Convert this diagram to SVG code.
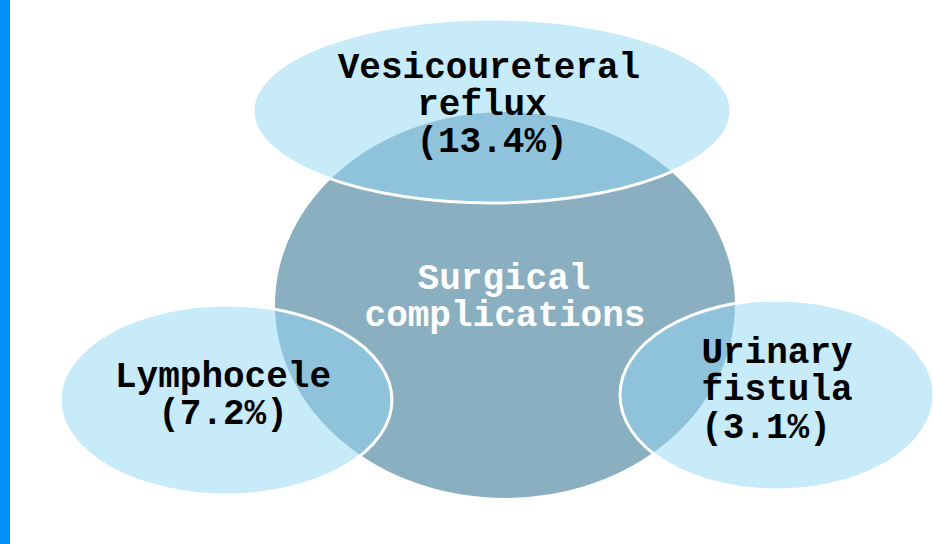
<svg xmlns="http://www.w3.org/2000/svg" width="933" height="544" viewBox="0 0 933 544">
<style>
.sat{fill:#91d7f5;fill-opacity:0.5;stroke:#ffffff;stroke-width:3}
.t{font-family:"Liberation Mono","Courier New",monospace;font-weight:bold;font-size:36px;text-anchor:middle;fill:#000000}
.w{fill:#ffffff}
</style>
<rect x="0" y="0" width="10" height="544" fill="#0090f8"/>
<g id="center">
<ellipse cx="505" cy="305" rx="230" ry="193" fill="#8aafc0"/>
<text class="t w" x="504" y="289">Surgical</text>
<text class="t w" x="505" y="326">complications</text>
</g>
<g id="vur">
<ellipse class="sat" cx="492" cy="111" rx="239" ry="92"/>
<text class="t" x="489" y="78">Vesicoureteral</text>
<text class="t" x="482" y="115">reflux</text>
<text class="t" x="492" y="152">(13.4%)</text>
</g>
<g id="lympho">
<ellipse class="sat" cx="226" cy="400" rx="166" ry="95"/>
<text class="t" x="223" y="387">Lymphocele</text>
<text class="t" x="223" y="424">(7.2%)</text>
</g>
<g id="fistula">
<ellipse class="sat" cx="777" cy="395" rx="157" ry="95"/>
<text class="t" x="777" y="363">Urinary</text>
<text class="t" x="777" y="400">fistula</text>
<text class="t" x="766" y="438">(3.1%)</text>
</g>
<g id="connectors"/>
</svg>
